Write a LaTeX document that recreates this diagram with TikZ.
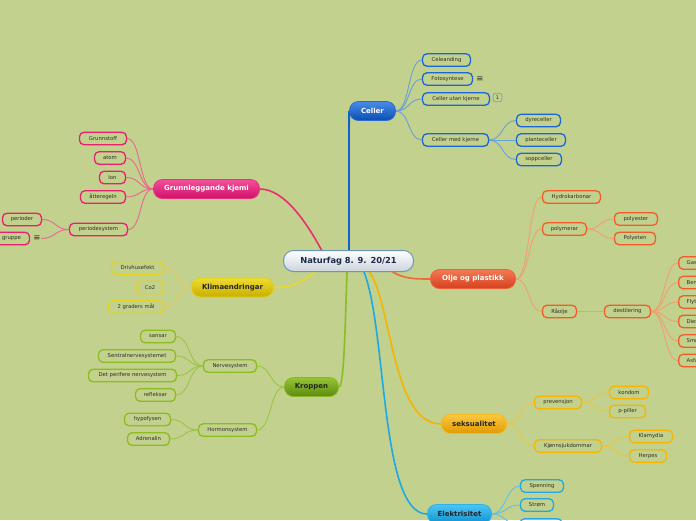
\documentclass[tikz,border=0pt]{standalone}
\usepackage{fontspec}
\setmainfont{DejaVu Sans}
\pgfdeclarelayer{bg}
\pgfsetlayers{bg,main}
\definecolor{bgc}{RGB}{194,209,141}
\definecolor{leaftxt}{HTML}{2E2E24}
\definecolor{centtxt}{HTML}{1A2A48}
\definecolor{centbd}{HTML}{6A96BC}
\definecolor{centbot}{HTML}{CCD4DC}
% Celler
\definecolor{cTop}{HTML}{4A8CE8}\definecolor{cBot}{HTML}{0A4EB0}\definecolor{cBd}{HTML}{2A6AD0}
\definecolor{cLeaf}{HTML}{1A66D8}\definecolor{cCon}{HTML}{6AA0D8}\definecolor{cMain}{HTML}{1060D0}
% Grunnleggande
\definecolor{gTop}{HTML}{F4509A}\definecolor{gBot}{HTML}{D0106A}\definecolor{gBd}{HTML}{E8307E}
\definecolor{gLeaf}{HTML}{E8206E}\definecolor{gCon}{HTML}{E86890}\definecolor{gMain}{HTML}{E8306A}
% Klima
\definecolor{kTop}{HTML}{EEDC30}\definecolor{kBot}{HTML}{C8AE00}\definecolor{kBd}{HTML}{E0D020}
\definecolor{kLeaf}{HTML}{E6D21E}\definecolor{kCon}{HTML}{E0D050}\definecolor{kMain}{HTML}{E8D830}
% Kroppen
\definecolor{bTop}{HTML}{96C434}\definecolor{bBot}{HTML}{5C8C0E}\definecolor{bBd}{HTML}{88B828}
\definecolor{bLeaf}{HTML}{8CBC1E}\definecolor{bCon}{HTML}{9CC448}\definecolor{bMain}{HTML}{8CBC28}
% Olje
\definecolor{oTop}{HTML}{F47A54}\definecolor{oBot}{HTML}{D4401E}\definecolor{oBd}{HTML}{F06038}
\definecolor{oLeaf}{HTML}{F25C28}\definecolor{oCon}{HTML}{F0A070}\definecolor{oMain}{HTML}{EE6A38}
% seksualitet
\definecolor{sTop}{HTML}{FAC840}\definecolor{sBot}{HTML}{E29A00}\definecolor{sBd}{HTML}{F8B820}
\definecolor{sLeaf}{HTML}{F8B400}\definecolor{sCon}{HTML}{F0C440}\definecolor{sMain}{HTML}{F4B400}
% Elektrisitet
\definecolor{eTop}{HTML}{4AC6F4}\definecolor{eBot}{HTML}{1290D0}\definecolor{eBd}{HTML}{30B0E8}
\definecolor{eLeaf}{HTML}{22A8E4}\definecolor{eCon}{HTML}{60C0E8}\definecolor{eMain}{HTML}{20A8E4}
\begin{document}
\begin{tikzpicture}[x=1pt,y=-1pt,
  leaf/.style={draw, rounded corners=4.5pt, line width=1.3pt, minimum height=12.5pt,
    inner xsep=2pt, inner ysep=0pt, font=\fontsize{5.3}{6}\selectfont, text=leaftxt},
  redge/.style={leaf, anchor=west, inner xsep=8pt},
  mainnode/.style={rounded corners=9pt, line width=0.8pt, minimum height=19pt,
    inner xsep=2pt, inner ysep=0pt, font=\fontsize{7}{8}\selectfont\bfseries},
  icon/.style={font=\fontsize{8.5}{9}\selectfont, text=leaftxt, inner sep=0.5pt},
  badge/.style={draw=cCon, rounded corners=2.5pt, line width=0.7pt, minimum width=9pt,
    minimum height=8.5pt, inner sep=0pt, font=\fontsize{5}{6}\selectfont, text=leaftxt},
  con/.style={line width=0.9pt},
  maincon/.style={line width=1.6pt}
]
\useasboundingbox (0,0) rectangle (696,520);
\begin{pgfonlayer}{bg}
  \fill[bgc] (0,0) rectangle (696,520);
\end{pgfonlayer}

% central
\node[draw=centbd, line width=1pt, rounded corners=10pt, top color=white, bottom color=centbot,
  minimum width=130pt, minimum height=21pt, inner sep=0pt, font=\fontsize{8.3}{9}\selectfont\bfseries, text=centtxt]
  (c) at (348.5,261) {Naturfag 8. 9. 20/21};

% main branches
\node[mainnode, draw=cBd, top color=cTop, bottom color=cBot, text=white, minimum width=46pt] (cel) at (372.5,111) {Celler};
\node[mainnode, draw=gBd, top color=gTop, bottom color=gBot, text=white, minimum width=106pt] (gru) at (206.5,189) {Grunnleggande kjemi};
\node[mainnode, draw=kBd, top color=kTop, bottom color=kBot, text=black!85, minimum width=82pt] (kli) at (232.5,287.5) {Klimaendringar};
\node[mainnode, draw=bBd, top color=bTop, bottom color=bBot, text=black!85, minimum width=54pt] (kro) at (311.5,387) {Kroppen};
\node[mainnode, draw=oBd, top color=oTop, bottom color=oBot, text=white, minimum width=85pt] (olj) at (473,279) {Olje og plastikk};
\node[mainnode, draw=sBd, top color=sTop, bottom color=sBot, text=black!85, minimum width=65pt] (sek) at (474,424) {seksualitet};
\node[mainnode, draw=eBd, top color=eTop, bottom color=eBot, text=black!85, minimum width=64pt] (ele) at (459.5,514) {Elektrisitet};

% Celler leaves
\node[leaf, draw=cLeaf, minimum width=48pt] (c1) at (446.5,60) {Celeanding};
\node[leaf, draw=cLeaf, minimum width=50pt] (c2) at (447.5,79) {Fotosyntese};
\node[icon] (c2i) at (480,79) {≡};
\node[leaf, draw=cLeaf, minimum width=67pt] (c3) at (456,99) {Celler utan kjerne};
\node[badge] (c3b) at (497.5,97.5) {1};
\node[leaf, draw=cLeaf, minimum width=66pt] (c4) at (455.5,140) {Celler med kjerne};
\node[leaf, draw=cLeaf, minimum width=44pt] (c5) at (538.5,120.5) {dyreceller};
\node[leaf, draw=cLeaf, minimum width=49pt] (c6) at (541,140) {planteceller};
\node[leaf, draw=cLeaf, minimum width=45pt] (c7) at (539,159.5) {soppceller};

% Grunnleggande leaves
\node[leaf, draw=gLeaf, minimum width=47pt] (g1) at (103,138.5) {Grunnstoff};
\node[leaf, draw=gLeaf, minimum width=31pt] (g2) at (110,158) {atom};
\node[leaf, draw=gLeaf, minimum width=26pt] (g3) at (112.5,177.5) {Ion};
\node[leaf, draw=gLeaf, minimum width=45pt] (g4) at (103,197) {åtteregeln};
\node[leaf, draw=gLeaf, minimum width=58pt] (g5) at (98.5,229.5) {periodesystem};
\node[leaf, draw=gLeaf, minimum width=39pt] (g6) at (22,219.5) {perioder};
\node[leaf, draw=gLeaf, minimum width=36pt] (g7) at (11.5,238.5) {gruppe};
\node[icon] (g7i) at (37,238.5) {≡};

% Klima leaves
\node[leaf, draw=kLeaf, minimum width=52pt] (k1) at (137.5,268) {Drivhusefekt};
\node[leaf, draw=kLeaf, minimum width=27pt] (k2) at (150,287.5) {Co2};
\node[leaf, draw=kLeaf, minimum width=55pt] (k3) at (136,307) {2 graders mål};

% Kroppen leaves
\node[leaf, draw=bLeaf, minimum width=53pt] (b1) at (230,366) {Nervesystem};
\node[leaf, draw=bLeaf, minimum width=58pt] (b2) at (227.5,430) {Hormonsystem};
\node[leaf, draw=bLeaf, minimum width=35pt] (b3) at (158,336.5) {sansar};
\node[leaf, draw=bLeaf, minimum width=77pt] (b4) at (137,356) {Sentralnervesystemet};
\node[leaf, draw=bLeaf, minimum width=88pt] (b5) at (132.5,375.5) {Det perifere nervesystem};
\node[leaf, draw=bLeaf, minimum width=40pt] (b6) at (155.5,395) {refleksar};
\node[leaf, draw=bLeaf, minimum width=46pt] (b7) at (147.5,419.5) {hypofysen};
\node[leaf, draw=bLeaf, minimum width=42pt] (b8) at (148.5,439) {Adrenalin};

% Olje leaves
\node[leaf, draw=oLeaf, minimum width=58pt] (o1) at (571.5,197) {Hydrokarbonar};
\node[leaf, draw=oLeaf, minimum width=44pt] (o2) at (564.5,229) {polymerar};
\node[leaf, draw=oLeaf, minimum width=34pt] (o3) at (559.5,311.5) {Råolje};
\node[leaf, draw=oLeaf, minimum width=43pt] (o4) at (636,219) {polyester};
\node[leaf, draw=oLeaf, minimum width=41pt] (o5) at (635,238.5) {Polyeten};
\node[leaf, draw=oLeaf, minimum width=46pt] (o6) at (627.5,311.5) {destilering};
\node[redge, draw=oLeaf] (o7) at (678,263) {Gass};
\node[redge, draw=oLeaf] (o8) at (678,282.5) {Bensin};
\node[redge, draw=oLeaf] (o9) at (678,302) {Flytande};
\node[redge, draw=oLeaf] (o10) at (678,321.5) {Diesel};
\node[redge, draw=oLeaf] (o11) at (678,341) {Smørjeolje};
\node[redge, draw=oLeaf] (o12) at (678,360.5) {Asfalt};

% seksualitet leaves
\node[leaf, draw=sLeaf, minimum width=47pt] (s1) at (558,402.5) {prevensjon};
\node[leaf, draw=sLeaf, minimum width=67pt] (s2) at (568,446) {Kjønnsjukdommar};
\node[leaf, draw=sLeaf, minimum width=39pt] (s3) at (629,392.5) {kondom};
\node[leaf, draw=sLeaf, minimum width=36pt] (s4) at (627.5,411.5) {p-piller};
\node[leaf, draw=sLeaf, minimum width=43pt] (s5) at (651,436.5) {Klamydia};
\node[leaf, draw=sLeaf, minimum width=37pt] (s6) at (648,456) {Herpes};

% Elektrisitet leaves
\node[leaf, draw=eLeaf, minimum width=43pt] (e1) at (542,486) {Spenning};
\node[leaf, draw=eLeaf, minimum width=33pt] (e2) at (537,505) {Strøm};
\node[leaf, draw=eLeaf, minimum width=42pt] (e3) at (541,525) {};

\begin{pgfonlayer}{bg}
% main connectors
\draw[maincon, cMain, line width=1.9pt] ([xshift=0.5pt]c.north) .. controls (349,180) and (349,118) .. (cel.west);
\draw[maincon, gMain] ([xshift=-27pt]c.north) .. controls (308,225) and (285,189) .. (gru.east);
\draw[maincon, kMain] ([xshift=-34pt]c.south) .. controls (300,284) and (290,287.5) .. (kli.east);
\draw[maincon, bMain] ([xshift=-1.5pt]c.south) .. controls (345,330) and (344,387) .. (kro.east);
\draw[maincon, oMain] ([xshift=44pt]c.south) .. controls (405,279) and (415,279) .. (olj.west);
\draw[maincon, sMain] ([xshift=21pt]c.south) .. controls (392,305) and (392,424) .. (sek.west);
\draw[maincon, eMain] ([xshift=15.5pt]c.south) .. controls (387,330) and (380,514) .. (ele.west);

% Celler
\foreach \t in {c1,c2,c3,c4}
  \draw[con, cCon] (cel.east) .. controls +(14,0) and +(-14,0) .. (\t.west);
\foreach \t in {c5,c6,c7}
  \draw[con, cCon] (c4.east) .. controls +(14,0) and +(-14,0) .. (\t.west);
% Grunnleggande
\foreach \t in {g1,g2,g3,g4,g5}
  \draw[con, gCon] (gru.west) .. controls +(-14,0) and +(14,0) .. (\t.east);
\draw[con, gCon] (g5.west) .. controls +(-14,0) and +(14,0) .. (g6.east);
\draw[con, gCon] (g5.west) .. controls +(-14,0) and +(14,0) .. (g7i.east);
% Klima
\foreach \t in {k1,k2,k3}
  \draw[con, kCon] (kli.west) .. controls +(-14,0) and +(14,0) .. (\t.east);
% Kroppen
\foreach \t in {b1,b2}
  \draw[con, bCon] (kro.west) .. controls +(-14,0) and +(14,0) .. (\t.east);
\foreach \t in {b3,b4,b5,b6}
  \draw[con, bCon] (b1.west) .. controls +(-14,0) and +(14,0) .. (\t.east);
\foreach \t in {b7,b8}
  \draw[con, bCon] (b2.west) .. controls +(-14,0) and +(14,0) .. (\t.east);
% Olje
\foreach \t in {o1,o2,o3}
  \draw[con, oCon] (olj.east) .. controls +(14,0) and +(-14,0) .. (\t.west);
\foreach \t in {o4,o5}
  \draw[con, oCon] (o2.east) .. controls +(14,0) and +(-14,0) .. (\t.west);
\draw[con, oCon] (o3.east) -- (o6.west);
\foreach \t in {o7,o8,o9,o10,o11,o12}
  \draw[con, oCon] (o6.east) .. controls +(14,0) and +(-14,0) .. (\t.west);
% seksualitet
\foreach \t in {s1,s2}
  \draw[con, sCon] (sek.east) .. controls +(14,0) and +(-14,0) .. (\t.west);
\foreach \t in {s3,s4}
  \draw[con, sCon] (s1.east) .. controls +(14,0) and +(-14,0) .. (\t.west);
\foreach \t in {s5,s6}
  \draw[con, sCon] (s2.east) .. controls +(14,0) and +(-14,0) .. (\t.west);
% Elektrisitet
\foreach \t in {e1,e2,e3}
  \draw[con, eCon] (ele.east) .. controls +(14,0) and +(-14,0) .. (\t.west);
\end{pgfonlayer}
\end{tikzpicture}
\end{document}
